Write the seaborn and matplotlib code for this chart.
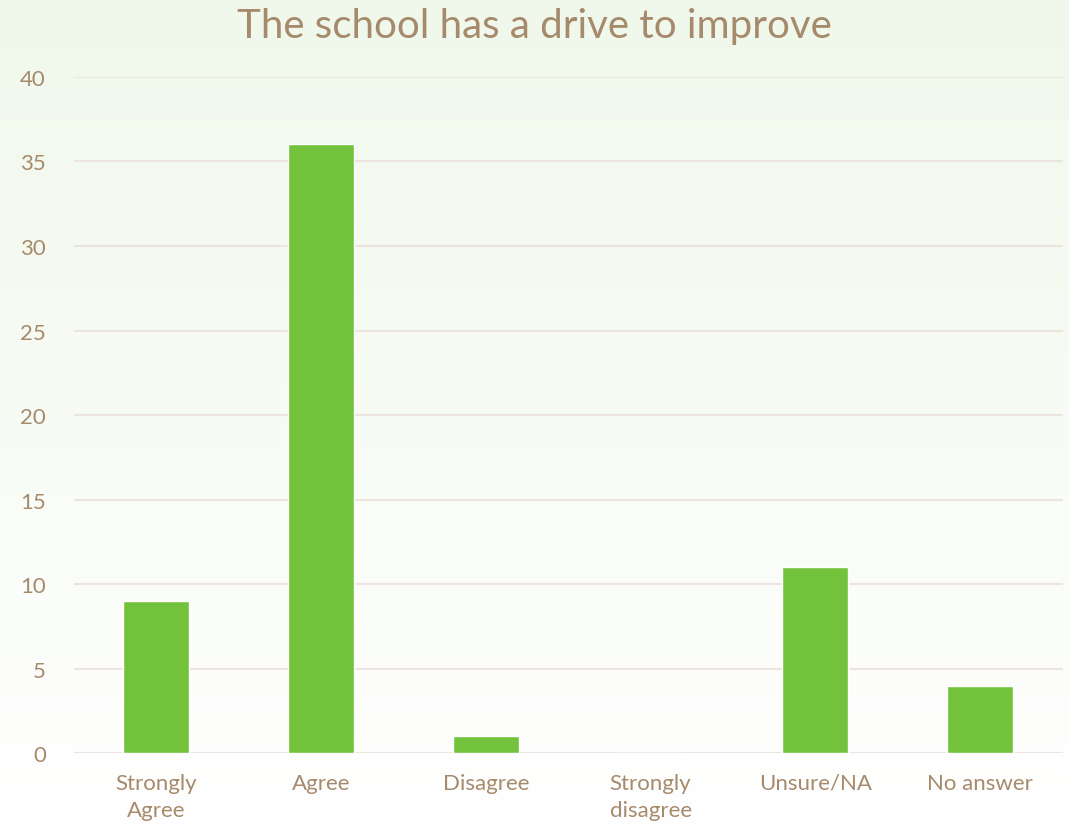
import numpy as np
import pandas as pd
import matplotlib
matplotlib.use("Agg")
import matplotlib.pyplot as plt
import seaborn as sns

## Data

categories = ["Strongly\nAgree", "Agree", "Disagree", "Strongly\ndisagree", "Unsure/NA", "No answer"]
counts = [9, 36, 1, 0, 11, 4]
y_ticks = [0, 5, 10, 15, 20, 25, 30, 35, 40]

text_col = "#A68A6C"
bar_col = "#72C23C"
grid_col = "#EDE4DE"

sns.set_style("white")
plt.rcParams['font.family'] = ['Lato', 'DejaVu Sans']

df = pd.DataFrame({"category": categories, "count": counts})

fig = plt.figure(figsize=(10.69, 8.28), dpi=100)

# background gradient, light green at top fading to white
bg = fig.add_axes([0, 0, 1, 1], zorder=-10)
grad = np.linspace(0, 1, 256).reshape(-1, 1)
top = np.array([240, 248, 235]) / 255
bottom = np.array([255, 255, 255]) / 255
img = top + (bottom - top) * grad[..., None]
bg.imshow(img, aspect="auto", extent=[0, 1, 0, 1], origin="upper")
bg.axis("off")

ax = fig.add_axes([0.069, 0.089, 0.925, 0.817])
ax.patch.set_alpha(0)

sns.barplot(data=df, x="category", y="count", color=bar_col, width=0.4,
            saturation=1, ax=ax, zorder=3)

ax.set_ylim(0, 40)
ax.set_yticks(y_ticks)
ax.yaxis.grid(True, color=grid_col, linewidth=1.5, zorder=0)
ax.set_axisbelow(True)
ax.set_xlabel("")
ax.set_ylabel("")
for s in ax.spines.values():
    s.set_visible(False)
ax.tick_params(axis="both", length=0, labelsize=16, labelcolor=text_col)
ax.tick_params(axis="x", pad=14)
ax.tick_params(axis="y", pad=20)
for lbl in ax.get_xticklabels():
    lbl.set_linespacing(1.45)

fig.suptitle("The school has a drive to improve", fontsize=29, color=text_col,
             y=0.99, va="top")

fig.savefig("out.png", dpi=100)
